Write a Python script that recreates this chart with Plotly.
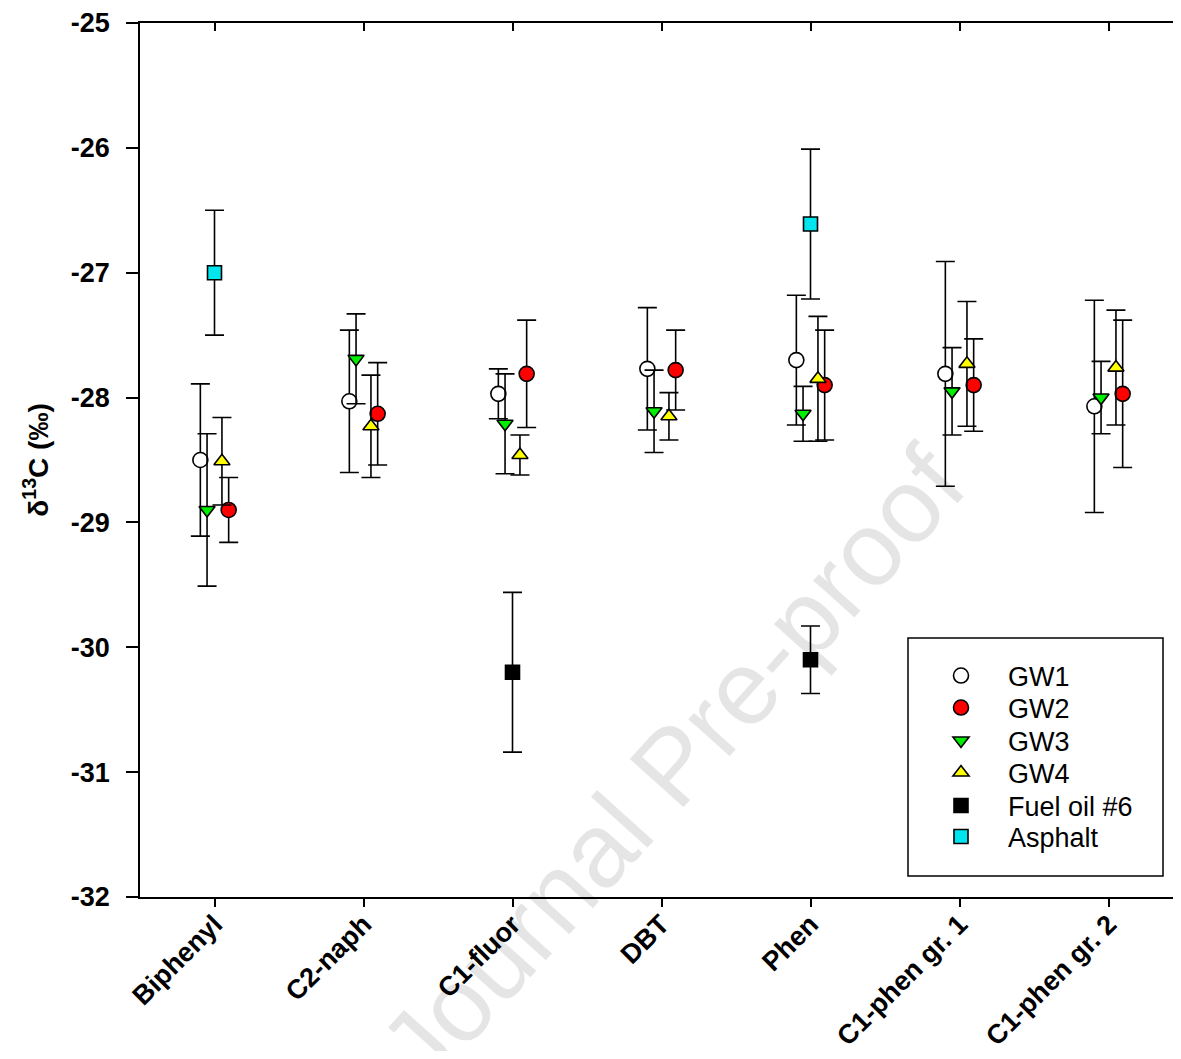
import plotly.graph_objects as go

categories = ["Biphenyl", "C2-naph", "C1-fluor", "DBT", "Phen", "C1-phen gr. 1", "C1-phen gr. 2"]

gw1 = [-28.50, -28.03, -27.97, -27.77, -27.70, -27.81, -28.07]
gw1_err = [0.61, 0.57, 0.20, 0.49, 0.52, 0.90, 0.85]
gw2 = [-28.90, -28.13, -27.81, -27.78, -27.90, -27.90, -27.97]
gw2_err = [0.26, 0.41, 0.43, 0.32, 0.44, 0.37, 0.59]
gw3 = [-28.90, -27.69, -28.21, -28.11, -28.13, -27.95, -28.00]
gw3_err = [0.61, 0.36, 0.40, 0.33, 0.22, 0.35, 0.29]
gw4 = [-28.51, -28.23, -28.46, -28.15, -27.85, -27.73, -27.76]
gw4_err = [0.35, 0.41, 0.16, 0.19, 0.50, 0.50, 0.46]
fuel = [None, None, -30.20, None, -30.10, None, None]
fuel_err = [0, 0, 0.64, 0, 0.27, 0, 0]
asphalt = [-27.00, None, None, None, -26.61, None, None]
asphalt_err = [0.50, 0, 0, 0, 0.60, 0, 0]

y_ticks = [-32, -31, -30, -29, -28, -27, -26, -25]
y_tick_labels = ["-32", "-31", "-30", "-29", "-28", "-27", "-26", "-25"]

FONT = "Liberation Sans, Arial, sans-serif"

series = [
    ("GW1", gw1, gw1_err, -0.095, dict(symbol="circle", size=15, color="white")),
    ("GW2", gw2, gw2_err, 0.095, dict(symbol="circle", size=15, color="#ff0000")),
    ("GW3", gw3, gw3_err, -0.05, dict(symbol="triangle-down", size=14, color="#00ee00")),
    ("GW4", gw4, gw4_err, 0.05, dict(symbol="triangle-up", size=14, color="#ffff00")),
    ("Fuel oil #6", fuel, fuel_err, 0.0, dict(symbol="square", size=14, color="black")),
    ("Asphalt", asphalt, asphalt_err, 0.0, dict(symbol="square", size=14, color="#00e5ee")),
]

# page body has an 8px margin: figure occupies 8..1173 x 8..1051 (no scrollbars)
OFF = 8
FIG_W, FIG_H = 1181 - 2 * OFF, 1059 - 2 * OFF
PL, PT, PB = 140, 23, 897          # plot area edges in window pixels
PR = OFF + FIG_W
PW, PH = PR - PL, PB - PT
PX_PER_CAT = 149.0
xr = [0.5, 0.5 + PW / PX_PER_CAT]

legend_item_y = [676, 708, 741, 773, 806, 837]   # window pixels of legend rows
LEG_X = 914
LEG_ITEMW = 84

fig = go.Figure()
positions = list(range(1, len(categories) + 1))
legend_names = ["legend"] + [f"legend{i}" for i in range(2, len(series) + 1)]
for (name, vals, errs, off, mk), lg in zip(series, legend_names):
    xs = [p + off for p in positions]
    fig.add_trace(go.Scatter(
        x=xs, y=vals, name=name, mode="markers", legend=lg,
        marker=dict(symbol=mk["symbol"], size=mk["size"], color=mk["color"],
                    line=dict(color="black", width=1.6)),
        error_y=dict(type="data", array=errs, symmetric=True, color="black",
                     thickness=1.6, width=9.5),
    ))

# dummy trace to activate top mirror axis
fig.add_trace(go.Scatter(x=[None], y=[None], xaxis="x2", showlegend=False,
                         hoverinfo="skip", mode="markers"))

legends = {}
for lg, yc in zip(legend_names, legend_item_y):
    legends[lg] = dict(x=(LEG_X - PL) / PW, y=(PB - yc) / PH, xanchor="left", yanchor="middle",
                       bgcolor="rgba(0,0,0,0)", borderwidth=0,
                       font=dict(size=27, family=FONT), itemwidth=LEG_ITEMW)

fig.update_layout(
    width=FIG_W, height=FIG_H,
    margin=dict(l=PL - OFF, r=0, t=PT - OFF, b=FIG_H + OFF - PB, autoexpand=False),
    paper_bgcolor="white", plot_bgcolor="white",
    font=dict(family=FONT, color="black"),
    showlegend=True,
    xaxis=dict(range=xr, tickmode="array", tickvals=positions, ticktext=categories,
               tickangle=-45, ticks="outside", ticklen=8, tickwidth=1.5, tickcolor="black",
               showline=True, linecolor="black", linewidth=1.5, showgrid=False,
               zeroline=False, ticklabelstandoff=-9, ticklabeloverflow="allow",
               tickfont=dict(size=27, weight="bold", family=FONT)),
    xaxis2=dict(range=xr, overlaying="x", side="top", tickmode="array", tickvals=positions,
                showticklabels=False, ticks="inside", ticklen=8, tickwidth=1.5,
                tickcolor="black", showline=True, linecolor="black", linewidth=1.5,
                showgrid=False, zeroline=False),
    yaxis=dict(range=[-32, -25], tickmode="array", tickvals=y_ticks, ticktext=y_tick_labels,
               ticks="outside", ticklen=12, tickwidth=1.5, tickcolor="black", showline=True,
               linecolor="black", linewidth=1.5, showgrid=False, zeroline=False,
               ticklabelstandoff=11, ticklabeloverflow="allow",
               tickfont=dict(size=27, weight="bold", family=FONT),
               title=dict(text="δ<sup>13</sup>C (‰)", standoff=14,
                          font=dict(size=28, weight="bold", family=FONT))),
    shapes=[dict(type="rect", xref="paper", yref="paper",
                 x0=(908 - PL) / PW, x1=(1163 - PL) / PW,
                 y0=(PB - 876) / PH, y1=(PB - 638) / PH,
                 line=dict(color="black", width=1.5), fillcolor="rgba(0,0,0,0)")],
    annotations=[dict(text="Journal Pre-proof", xref="paper", yref="paper",
                      x=(672 - PL) / PW, y=(PB - 765) / PH, xanchor="center", yanchor="middle",
                      showarrow=False, textangle=-48,
                      font=dict(size=105, color="rgba(0,0,0,0.10)", family=FONT))],
    **legends,
)

fig.write_html("out.html")
